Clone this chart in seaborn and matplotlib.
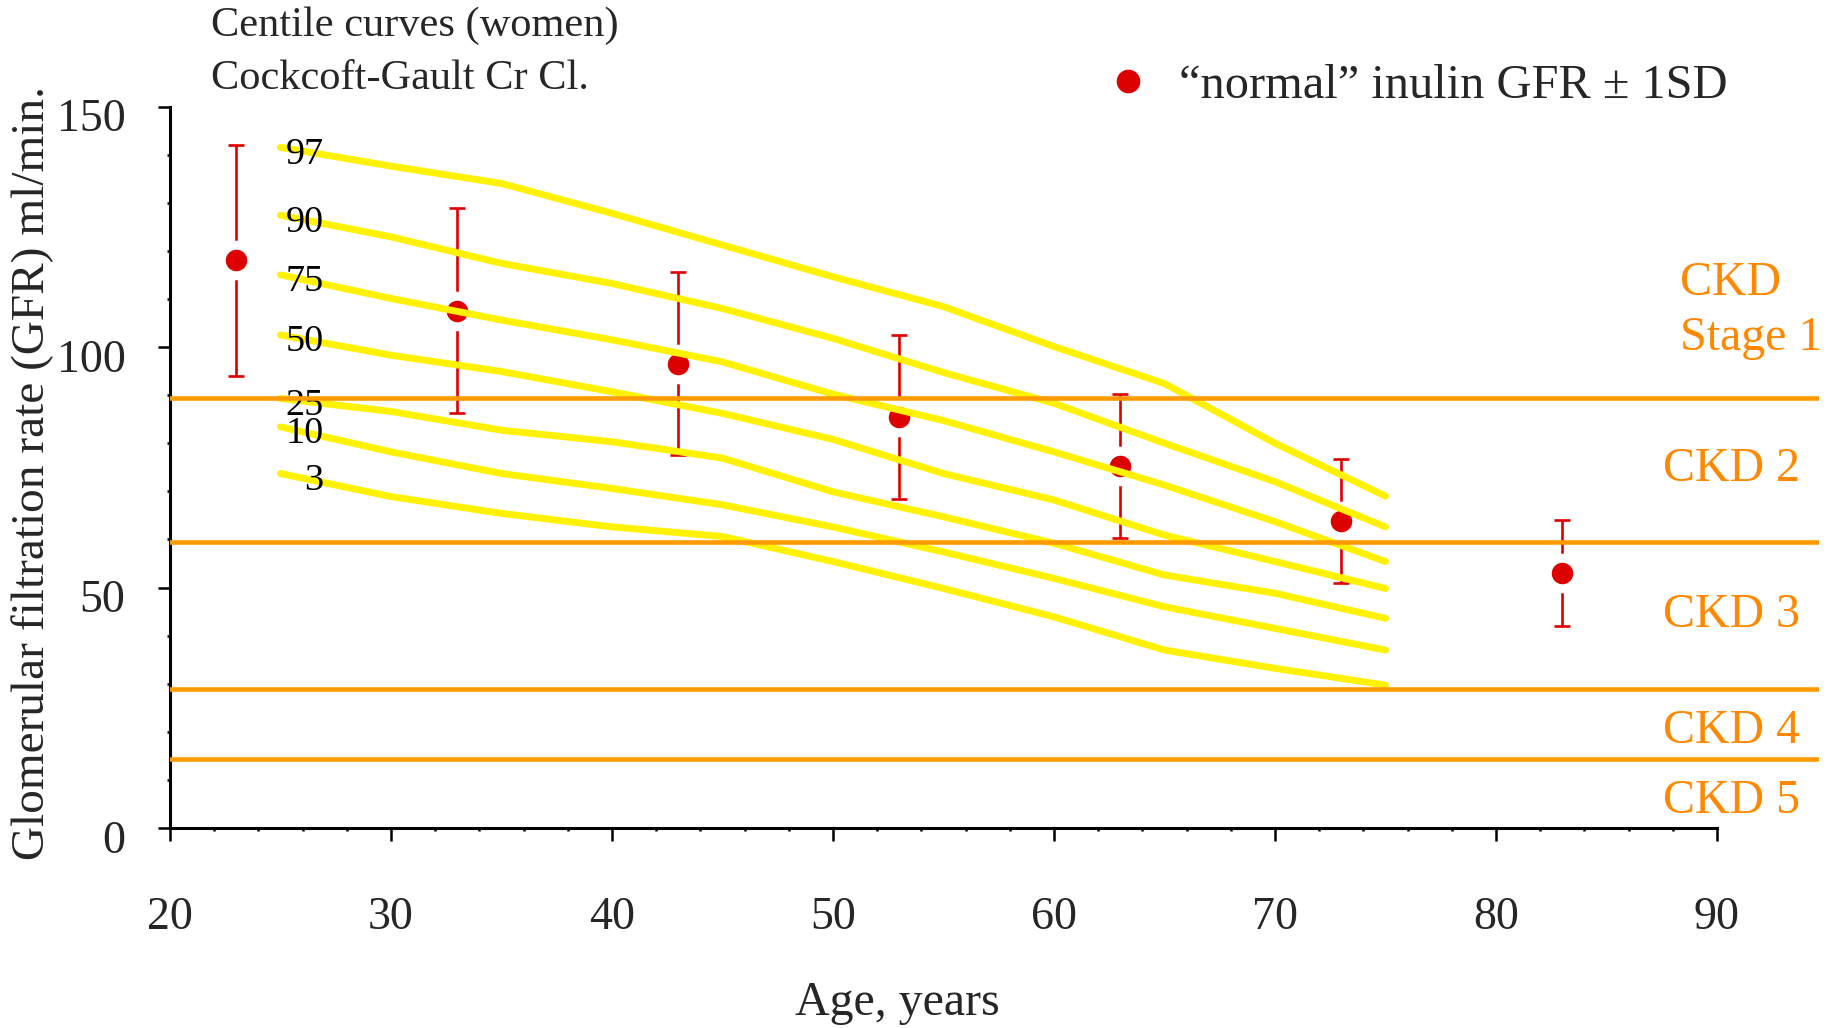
import numpy as np
import pandas as pd
import matplotlib
matplotlib.use("Agg")
import matplotlib.pyplot as plt
from matplotlib.lines import Line2D
from matplotlib.ticker import FixedLocator
from matplotlib.transforms import ScaledTranslation
import seaborn as sns

# ---------------- data ----------------
ages_curve = [25, 30, 35, 40, 45, 50, 55, 60, 65, 70, 75]
centile_names = ["97", "90", "75", "50", "25", "10", "3"]
c97 = [141.5, 137.6, 134.0, 127.8, 121.2, 114.6, 108.4, 100.1, 92.4, 80.0, 69.0]
c90 = [127.4, 122.9, 117.4, 113.2, 108.0, 101.8, 94.7, 88.3, 80.0, 72.0, 62.6]
c75 = [115.0, 110.1, 105.6, 101.5, 96.9, 90.2, 84.7, 78.2, 71.3, 63.7, 55.4]
c50 = [102.5, 98.3, 94.9, 90.7, 86.2, 80.8, 73.7, 68.2, 60.9, 55.4, 49.8]
c25 = [89.3, 86.6, 82.7, 80.3, 76.9, 69.9, 64.7, 59.2, 52.6, 48.8, 43.6]
c10 = [83.4, 78.2, 73.7, 70.6, 67.2, 62.6, 57.4, 51.9, 46.0, 41.5, 37.0]
c3 = [73.7, 68.9, 65.4, 62.6, 60.6, 55.4, 49.8, 43.9, 37.0, 33.2, 29.7]

inulin_age = [23, 33, 43, 53, 63, 73, 83]
inulin_gfr = [118.0, 107.5, 96.5, 85.5, 75.3, 63.8, 53.0]
inulin_sd = [24.0, 21.3, 19.0, 17.0, 15.0, 12.9, 11.0]

ckd_limits = [89.5, 59.5, 28.8, 14.3]
ckd_labels = ["CKD 2", "CKD 3", "CKD 4", "CKD 5"]
ckd_label_gfr = [74.6, 44.3, 20.2, 5.6]
ckd1_label = "CKD\nStage 1"
ckd1_label_gfr = 107.6

x_ticks = [20, 30, 40, 50, 60, 70, 80, 90]
x_minor = list(range(20, 91, 2))
y_ticks = [0, 50, 100, 150]
y_minor = list(range(0, 151, 10))

title_lines = ["Centile curves (women)", "Cockcoft-Gault Cr Cl."]
legend_label = "\u201cnormal\u201d inulin GFR \u00b1 1SD"
x_label = "Age, years"
y_label = "Glomerular filtration rate (GFR) ml/min."

# ---------------- style ----------------
sns.set_theme(style="white")
plt.rcParams["font.family"] = ["Liberation Serif", "DejaVu Serif"]

YELLOW = "#FFF200"
ORANGE_LINE = "#FF9900"
ORANGE_TEXT = "#FF8800"
RED = "#DD0000"

W, H, DPI = 1831, 1028, 100
fig = plt.figure(figsize=(W / DPI, H / DPI), dpi=DPI)
fig.patch.set_facecolor("white")
ax = fig.add_axes([0.09284, 0.19455, 0.9004, 0.70185])
ax.set_facecolor("white")

# centile curves
curves = [c97, c90, c75, c50, c25, c10, c3]
df = pd.DataFrame({
    "age": np.tile(ages_curve, len(curves)),
    "gfr": np.concatenate(curves),
    "centile": np.repeat(centile_names, len(ages_curve)),
})
sns.lineplot(data=df, x="age", y="gfr", hue="centile", units="centile",
             estimator=None, palette=[YELLOW] * len(curves), linewidth=5.0,
             legend=False, ax=ax, zorder=3, sort=False)

for name, vals in zip(centile_names, curves):
    ax.text(26.95, vals[0] - 1.5, name, ha="right", va="center",
            fontsize=27.5, color="black", zorder=4)

# inulin points with SD
ax.errorbar(inulin_age, inulin_gfr, yerr=inulin_sd, fmt="none",
            ecolor=RED, elinewidth=1.9, capsize=6, capthick=1.9, zorder=1)
pts = pd.DataFrame({"age": inulin_age, "gfr": inulin_gfr})
sns.scatterplot(data=pts, x="age", y="gfr", s=22.0 ** 2, color=RED,
                edgecolor="white", linewidth=6.5, ax=ax, zorder=1.5,
                legend=False)

# CKD limits
for lim in ckd_limits:
    ax.axhline(lim, color=ORANGE_LINE, linewidth=3.3, zorder=5)
for lab, yv in zip(ckd_labels, ckd_label_gfr):
    ax.text(87.55, yv, lab, ha="left", va="center", fontsize=34.5,
            color=ORANGE_TEXT, zorder=6)
ax.text(88.35, ckd1_label_gfr, ckd1_label, ha="left", va="center",
        fontsize=34.5, color=ORANGE_TEXT, zorder=6, linespacing=1.3)

# axes
ax.set_xlim(20, 94.6)
ax.set_ylim(0, 150)
for s in ["top", "right"]:
    ax.spines[s].set_visible(False)
for s in ["left", "bottom"]:
    ax.spines[s].set_color("black")
    ax.spines[s].set_linewidth(2.2)
ax.spines["bottom"].set_bounds(20, 90)
ax.spines["left"].set_bounds(0, 150)
ax.set_xticks(x_ticks)
ax.set_yticks(y_ticks)
ax.xaxis.set_minor_locator(FixedLocator(x_minor))
ax.yaxis.set_minor_locator(FixedLocator(y_minor))
ax.tick_params(axis="x", which="major", direction="out", length=9, width=1.8,
               color="black", labelsize=33, pad=40, bottom=True)
ax.tick_params(axis="y", which="major", direction="out", length=9, width=1.8,
               color="black", labelsize=33, pad=23, left=True)
ax.tick_params(which="minor", direction="out", length=2.5, width=1.8,
               color="black", bottom=True, left=True)
ax.set_xlabel("")
ax.set_ylabel("")
ax.grid(False)
shift = ScaledTranslation(0, -6 / 72, fig.dpi_scale_trans)
for lbl in ax.get_yticklabels():
    lbl.set_transform(lbl.get_transform() + shift)

fig.text(33 / W, 1 - 473 / H, y_label, rotation=90, ha="center", va="center",
         fontsize=34)
fig.text(897 / W, 1 - 1003 / H, x_label, ha="center", va="center", fontsize=34.5)
fig.text(211 / W, 1 - 26 / H, title_lines[0], ha="left", va="center", fontsize=30.5)
fig.text(211 / W, 1 - 79 / H, title_lines[1], ha="left", va="center", fontsize=30.5)

handle = Line2D([], [], marker="o", linestyle="none", color=RED,
                markersize=16)
fig.legend([handle], [legend_label], loc="center left",
           bbox_to_anchor=(1104.0 / W, 1 - 86 / H), frameon=False,
           fontsize=34.8, handlelength=1.0, handletextpad=0.55,
           borderpad=0, borderaxespad=0)

fig.savefig("out.png", dpi=DPI, facecolor="white")
